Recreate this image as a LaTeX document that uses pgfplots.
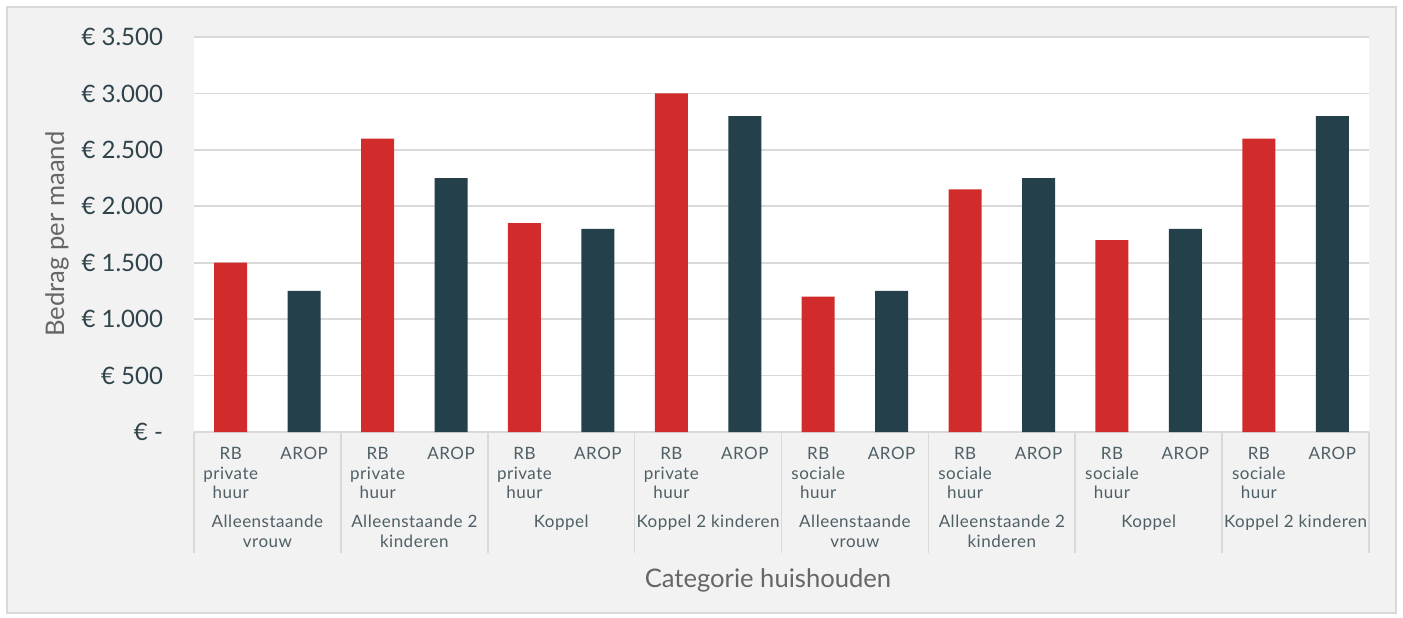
\documentclass[border=0pt]{standalone}
\usepackage{pgfplots}
\pgfplotsset{compat=1.18}
\usepackage{fontspec}
\setmainfont{Lato}
\newfontfamily\catfont{Lato}[LetterSpace=3]
\definecolor{bgc}{HTML}{F2F2F2}
\definecolor{redbar}{HTML}{D22B2B}
\definecolor{tealbar}{HTML}{24404A}
\definecolor{gridc}{HTML}{D9D9D9}
\definecolor{tickc}{HTML}{2F434B}
\definecolor{catc}{HTML}{4F5F66}
\definecolor{titlec}{HTML}{666666}
\begin{document}
\begin{tikzpicture}
\useasboundingbox (0pt,0pt) rectangle (701.5pt,308.5pt);
\fill[white] (0pt,0pt) rectangle (701.5pt,308.5pt);
\draw[gridc, fill=bgc, line width=0.75pt] (3.5pt,2pt) rectangle (698pt,305pt);
\node[rotate=90, text=titlec, font=\fontsize{12.8}{15}\selectfont] at (28.5pt,191.5pt) {Bedrag per maand};
\node[text=titlec, font=\fontsize{12.8}{15}\selectfont] at (384pt,18.5pt) {Categorie huishouden};
\begin{axis}[
  at={(97pt,92.5pt)}, anchor=south west,
  scale only axis, width=587.5pt, height=197.5pt,
  xmin=-0.5, xmax=15.5, ymin=0, ymax=3500,
  axis line style={draw=none},
  axis background/.style={fill=white},
  ymajorgrids, grid style={gridc, line width=0.8pt},
  major tick length=0pt,
  ytick={0,500,...,3500},
  yticklabels={€ -, € 500, € 1.000, € 1.500, € 2.000, € 2.500, € 3.000, € 3.500},
  yticklabel style={font=\fontsize{12}{14}\selectfont, text=tickc, anchor=east, xshift=-12pt},
  xtick={0,...,15},
  xticklabels={{RB\\private\\huur},AROP,{RB\\private\\huur},AROP,{RB\\private\\huur},AROP,{RB\\private\\huur},AROP,{RB\\sociale\\huur},AROP,{RB\\sociale\\huur},AROP,{RB\\sociale\\huur},AROP,{RB\\sociale\\huur},AROP},
  xticklabel style={font=\catfont\fontsize{8.5}{9.75}\selectfont, text=catc, align=center, anchor=north, inner sep=0pt, yshift=-7.5pt},
  ybar, bar width=16.5pt, bar shift=0pt,
  clip=false,
]
\addplot[fill=redbar, draw=none] coordinates {(0,1500) (2,2600) (4,1850) (6,3000) (8,1200) (10,2150) (12,1700) (14,2600)};
\addplot[fill=tealbar, draw=none] coordinates {(1,1250) (3,2250) (5,1800) (7,2800) (9,1250) (11,2250) (13,1800) (15,2800)};
\pgfplotsinvokeforeach{-0.5,1.5,3.5,5.5,7.5,9.5,11.5,13.5,15.5}{
  \draw[gridc, line width=0.8pt] (axis cs:#1,0) -- ++(0pt,-60.5pt);
}
\tikzset{grp/.style={anchor=north, inner sep=0pt, yshift=-41.5pt, align=center, text=catc, font=\catfont\fontsize{8.5}{10}\selectfont}}
\node[grp] at (axis cs:0.5,0) {Alleenstaande\\vrouw};
\node[grp] at (axis cs:2.5,0) {Alleenstaande 2\\kinderen};
\node[grp] at (axis cs:4.5,0) {Koppel};
\node[grp] at (axis cs:6.5,0) {Koppel 2 kinderen};
\node[grp] at (axis cs:8.5,0) {Alleenstaande\\vrouw};
\node[grp] at (axis cs:10.5,0) {Alleenstaande 2\\kinderen};
\node[grp] at (axis cs:12.5,0) {Koppel};
\node[grp] at (axis cs:14.5,0) {Koppel 2 kinderen};
\end{axis}
\end{tikzpicture}
\end{document}
